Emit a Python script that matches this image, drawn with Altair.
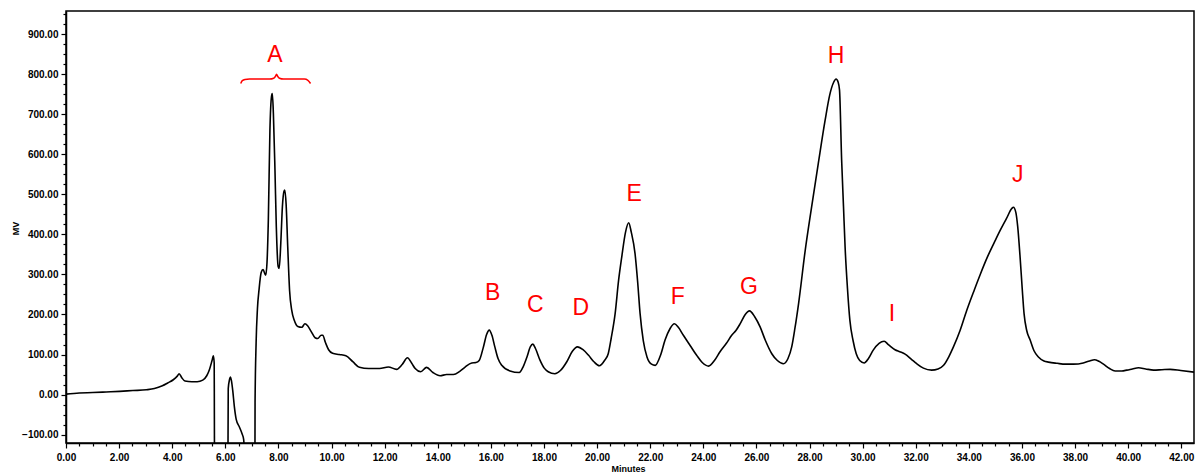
import altair as alt
import pandas as pd

# ---- chromatogram trace (minutes, mV) ----
minutes = [
    0.00, 0.50, 1.01, 1.51, 2.02, 2.52, 3.03, 3.33, 3.63, 3.83, 4.04, 4.19, 4.26, 4.36, 4.48,
    4.74, 4.94, 5.15, 5.30, 5.40, 5.50, 5.55, 5.58, 5.60,
    6.08, 6.09, 6.11, 6.16, 6.19, 6.23, 6.28, 6.34, 6.41, 6.53, 6.63, 6.69, 6.72,
    7.10, 7.11, 7.12, 7.16, 7.21, 7.27, 7.35, 7.42, 7.52, 7.57, 7.62, 7.68, 7.74, 7.77, 7.81,
    7.87, 7.92, 7.99, 8.03, 8.09, 8.15, 8.21, 8.24, 8.29, 8.35, 8.42, 8.50, 8.60, 8.73, 8.88,
    9.00, 9.10, 9.23, 9.38, 9.48, 9.61, 9.67, 9.77, 9.89, 10.04, 10.29, 10.54, 10.80, 11.05,
    11.40, 11.81, 12.14, 12.45, 12.66, 12.86, 13.02, 13.15, 13.36, 13.58, 13.82, 14.09, 14.33,
    14.59, 14.83, 15.02, 15.28, 15.44, 15.56, 15.72, 15.84, 15.94, 16.04, 16.15, 16.27, 16.41,
    16.72, 17.07, 17.22, 17.36, 17.49, 17.58, 17.68, 17.85, 18.01, 18.16, 18.41, 18.62, 18.86,
    19.07, 19.26, 19.47, 19.68, 19.88, 20.09, 20.28, 20.42, 20.53, 20.68, 20.81, 20.93, 21.07,
    21.19, 21.29, 21.43, 21.53, 21.62, 21.74, 21.88, 22.05, 22.19, 22.40, 22.56, 22.75, 22.91,
    23.06, 23.25, 23.51, 23.75, 23.96, 24.20, 24.42, 24.63, 24.87, 25.07, 25.23, 25.39, 25.58,
    25.74, 25.93, 26.14, 26.34, 26.58, 26.79, 27.02, 27.19, 27.33, 27.45, 27.59, 27.84, 28.08,
    28.33, 28.59, 28.76, 28.91, 29.00, 29.08, 29.13, 29.21, 29.28, 29.34, 29.43, 29.52, 29.64,
    29.76, 29.89, 30.06, 30.22, 30.40, 30.62, 30.81, 30.98, 31.22, 31.40, 31.60, 31.84, 32.04,
    32.29, 32.60, 32.84, 33.05, 33.25, 33.42, 33.67, 33.92, 34.21, 34.43, 34.71, 34.96, 35.18,
    35.42, 35.62, 35.68, 35.77, 35.84, 35.93, 36.01, 36.08, 36.18, 36.31, 36.45, 36.62, 36.83,
    37.00, 37.33, 37.64, 37.94, 38.31, 38.55, 38.73, 38.90, 39.07, 39.30, 39.51, 39.76, 39.95,
    40.16, 40.39, 40.66, 40.96, 41.27, 41.58, 41.98, 42.48,
]
millivolts = [
    1, 4, 5, 6.5, 8, 10, 12, 15, 22, 29, 37, 46, 52, 42, 34,
    32, 32, 36, 47, 62, 85, 97, 80, -300,
    -300, -300, 15, 38, 44, 35, 10, -30, -62, -81, -98, -112, -140,
    -300, -300, -20, 130, 215, 262, 305, 312, 298, 330, 436, 661, 745, 752, 702,
    560, 420, 320, 315, 380, 470, 508, 511, 475, 370, 260, 211, 185, 170, 168,
    177, 172, 158, 142, 140, 148, 148, 130, 112, 103, 100, 97, 82, 68,
    65, 65, 69, 63, 75, 92, 78, 65, 57, 68, 55, 47, 50,
    50, 58, 68, 79, 80, 85, 119, 150, 161, 148, 119, 90, 73,
    59, 55, 70, 94, 120, 126, 115, 86, 66, 57, 52, 60, 82,
    108, 119, 112, 98, 82, 72, 85, 102, 140, 202, 285, 344, 405,
    429, 405, 352, 280, 202, 135, 94, 76, 73, 100, 136, 165, 177,
    168, 148, 122, 98, 80, 71, 85, 107, 128, 148, 160, 177, 200,
    209, 195, 169, 135, 102, 85, 77, 90, 119, 165, 228, 361, 469,
    577, 686, 748, 780, 788, 780, 761, 586, 470, 369, 265, 186, 135,
    102, 85, 79, 90, 111, 128, 133, 124, 112, 107, 101, 88, 77,
    66, 61, 64, 73, 95, 119, 160, 210, 262, 300, 345, 380, 410,
    440, 465, 468, 455, 420, 344, 265, 202, 160, 136, 110, 94, 84,
    81, 78, 76, 76, 79, 84, 87, 83, 76, 65, 59, 59, 61,
    64, 67, 64, 61, 62, 63, 60, 56,
]

# ---- peak labels ----
peak_labels = ["A", "B", "C", "D", "E", "F", "G", "H", "I", "J"]
peak_label_x = [7.87, 16.07, 17.67, 19.39, 21.40, 23.04, 25.72, 29.00, 31.10, 35.84]
peak_label_y = [848, 254, 223, 217, 500, 244, 269, 846, 202, 548]

# ---- brace above group A ----
brace_x = [6.58, 6.64, 6.74, 6.91, 7.67, 7.82, 7.89, 7.93, 7.97, 8.04, 8.19, 8.98, 9.11, 9.21]
brace_y = [777, 784, 787, 788, 788, 790, 795, 800, 795, 790, 788, 788, 785, 777]

# ---- axis ticks ----
x_ticks = [round(i * 0.5, 2) for i in range(0, 85)]
y_ticks = [-100 + 25 * i for i in range(0, 43)]

trace = pd.DataFrame({"t": minutes, "v": millivolts})
labels = pd.DataFrame({"t": peak_label_x, "v": peak_label_y, "label": peak_labels})
brace = pd.DataFrame({"t": brace_x, "v": brace_y})

FONT = "Liberation Sans"

x_axis = alt.Axis(
    values=x_ticks,
    labelExpr="abs(datum.value/2 - round(datum.value/2)) < 0.001 ? format(datum.value, '.2f') : ''",
    tickSize={"condition": {"test": "abs(datum.value/2 - round(datum.value/2)) < 0.001", "value": 5}, "value": 3},
    labelOverlap=False,
    labelFlush=False,
    labelPadding=4,
    grid=False,
    title="Minutes",
    titleX=562,
    titleY=25,
    titleBaseline="middle",
    titleAnchor="middle",
)
y_axis = alt.Axis(
    values=y_ticks,
    labelExpr="abs(datum.value/100 - round(datum.value/100)) < 0.001 ? format(datum.value, '.2f') : ''",
    tickSize={"condition": {"test": "abs(datum.value/100 - round(datum.value/100)) < 0.001", "value": 5}, "value": 3},
    labelOverlap=False,
    labelFlush=False,
    labelPadding=3,
    grid=False,
    title="MV",
    titleX=-51,
    titleY=217,
    titleAngle=-90,
    titleBaseline="middle",
    titleAnchor="middle",
)

x_enc = alt.X("t:Q", scale=alt.Scale(domain=[0, 42.48], nice=False, zero=False), axis=x_axis)
y_enc = alt.Y("v:Q", scale=alt.Scale(domain=[-121, 958], nice=False, zero=False), axis=y_axis)

line = alt.Chart(trace).mark_line(
    color="black", strokeWidth=1.6, interpolate="monotone", clip=True
).encode(x=x_enc, y=y_enc)

brace_line = alt.Chart(brace).mark_line(
    color="#FF0000", strokeWidth=1.5, interpolate="monotone"
).encode(x=x_enc, y=y_enc)

text = alt.Chart(labels).mark_text(
    color="#FF0000", font=FONT, fontSize=23, baseline="middle", align="center"
).encode(x=x_enc, y=y_enc, text="label:N")

chart = (
    alt.layer(line, brace_line, text)
    .properties(
        width=1128,
        height=432,
        autosize=alt.AutoSizeParams(type="none"),
        padding={"left": 66, "top": 11, "right": 2, "bottom": 33},
        background="white",
    )
    .configure_view(stroke="black", strokeWidth=1.5)
    .configure_axis(
        domainColor="black",
        domainWidth=1.5,
        tickColor="black",
        tickWidth=1.2,
        labelColor="black",
        labelFont=FONT,
        labelFontSize=10,
        labelFontWeight="bold",
        titleColor="black",
        titleFont=FONT,
        titleFontSize=9,
        titleFontWeight="bold",
    )
)

chart.save("out.html", embed_options={"renderer": "svg", "actions": False})
